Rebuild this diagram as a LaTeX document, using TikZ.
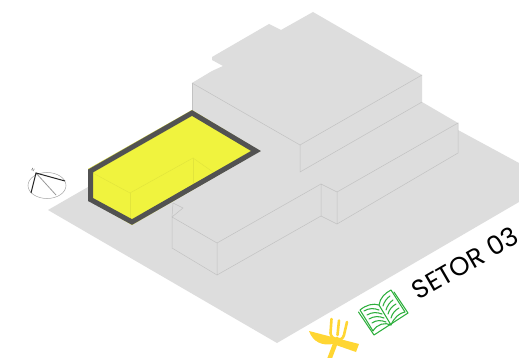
\documentclass[tikz,border=0pt]{standalone}
\usepackage{fontspec}
\setmainfont{Poppins}
\definecolor{mass}{RGB}{221,221,221}
\definecolor{hl}{RGB}{240,243,62}
\definecolor{hlline}{RGB}{226,229,60}
\definecolor{knife}{RGB}{255,214,51}
\definecolor{book}{RGB}{45,175,60}
\begin{document}
\begin{tikzpicture}[x=1pt,y=-1pt,
  edge/.style={draw=black!24,line width=0.5pt},
  inner/.style={draw=hlline,line width=0.5pt},
  bookline/.style={draw=book,line width=1.05pt,line join=round,line cap=round},
  cutlery/.style={draw=knife,line cap=round,line join=round}]
\useasboundingbox (0,0) rectangle (519,358);
\fill[white] (0,0) rectangle (519,358);
% ground and masses
\fill[mass] (48,210) -- (88,187) -- (88,169) -- (192,110) -- (192,83) -- (212,71) -- (223,66) -- (212,60) -- (212,57) -- (269,24) -- (281,30) -- (313,12) -- (422,75) -- (422,102) -- (458,123) -- (458,130) -- (519,163) -- (519,202) -- (277,343) -- cycle;
% upper block
\draw[edge] (192,83) -- (300,145) -- (422,75);
\draw[edge] (192,83) -- (192,110);
\draw[edge] (300,145) -- (300,172) -- (422,102);
% lower block
\draw[edge] (458,123) -- (337,192) -- (337,224) -- (458,153) -- cycle;
\draw[edge] (337,192) -- (321,184) -- (321,216) -- (337,224);
\draw[edge] (321,184) -- (217,243) -- (217,275) -- (321,216);
\draw[edge] (217,243) -- (172,217) -- (172,248) -- (217,275);
\draw[edge] (173,203) -- (183,208) -- (172,217);
\draw[edge] (173,203) -- (172,217);
% highlighted
\fill[hl] (88,169) -- (192,110) -- (260,151) -- (132,225) -- (88,200) -- cycle;
\draw[inner] (91,172) -- (130,193) -- (193,158) -- (213,172);
\draw[inner] (130,193) -- (130,221);
\draw[inner] (193,158) -- (193,186);
\draw[draw=black!68,line width=5pt,line join=miter] (90.5,171) -- (192,113) -- (256,151) -- (132,222) -- (90.5,199.5) -- cycle;
% compass
\draw[black!35,line width=0.5pt] (47,185.5) ellipse (19 and 13);
\draw[black!40,line width=0.8pt] (36,173) -- (56,195);
\draw[black!85,line width=1pt] (65,181) -- (36,173) -- (31,193);
\node[font=\fontsize{4}{4}\selectfont,black!70,rotate=-30,inner sep=0pt] (north) at (33,170) {N};
% cutlery
\draw[cutlery,line width=4.5pt] (337,339) -- (329,360);
\draw[cutlery,line width=2.6pt] (331.5,319) -- (330.5,333) .. controls (331,340) and (342,343) .. (344,335) -- (347,322);
\draw[cutlery,line width=2.6pt] (339,320.5) -- (337.5,335);
\fill[knife] (309,331) -- (359,344) -- (356,352) -- (333,344) .. controls (322,346) and (313,342) .. cycle;
% book
\draw[bookline] (358.5,312) -- (374,335) -- (408,313) -- (394,292);
\draw[bookline] (360,310) .. controls (366,305) and (373,303) .. (379,305) -- (391,325) .. controls (385,322) and (377,324) .. (373,331) -- cycle;
\draw[bookline] (379,305) .. controls (380,298) and (385,293) .. (391,290) -- (405,312) .. controls (399,313) and (394,318) .. (391,325);
\draw[bookline] (364,311) .. controls (369,308) and (374,308) .. (379,310);
\draw[bookline] (367,315) .. controls (372,312) and (377,312) .. (382,314);
\draw[bookline] (369,319) .. controls (374,316) and (379,316) .. (384,318);
\draw[bookline] (372,323) .. controls (376,320) and (381,320) .. (386,322);
\draw[bookline] (383,306) .. controls (384,302) and (387,298) .. (390,296);
\draw[bookline] (386,310) .. controls (387,306) and (390,302) .. (393,300);
\draw[bookline] (388,314) .. controls (389,310) and (392,306) .. (396,304);
\draw[bookline] (391,318) .. controls (392,314) and (395,310) .. (399,308);
% text
\node[font=\fontsize{26}{26}\selectfont,rotate=30,inner sep=0pt] (label) at (465,263) {SETOR 03};
\end{tikzpicture}
\end{document}
